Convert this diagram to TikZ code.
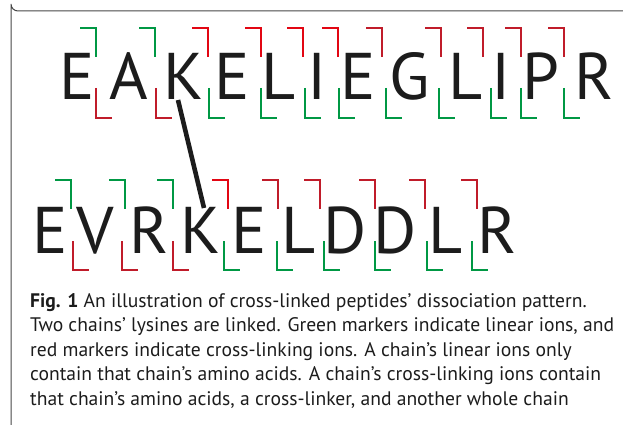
\documentclass[tikz,border=0pt]{standalone}
\usepackage{fontspec}
\setmainfont{PT Sans}
\usetikzlibrary{calc}
\definecolor{mgreen}{RGB}{0,152,68}
\definecolor{mred}{RGB}{226,6,19}
\definecolor{mdred}{RGB}{192,28,42}
\definecolor{ink}{RGB}{28,28,28}
\definecolor{frame}{RGB}{70,70,70}
\begin{document}
\begin{tikzpicture}[x=1pt,y=-1pt,
  aa/.style={font=\fontsize{66}{66}\selectfont, inner sep=0pt, anchor=base, text=ink},
  mk/.style={line width=2.9pt, line cap=butt, line join=miter},
  captxt/.style={font=\fontsize{19.6}{22}\selectfont, inner sep=0pt, anchor=base west, text=ink},
  link/.style={line width=4.6pt, draw=ink}]
\useasboundingbox (0,0) rectangle (623,425);
% frame
\draw[frame, line width=1pt] (623,11) -- (18,11) arc[start angle=90, end angle=180, radius=7] -- (11,425);
% top chain
\foreach \n/\l/\x in {a1/E/77.5, a2/A/128.5, a3/K/184, a4/E/232, a5/L/279, a6/I/317, a7/E/358.5, a8/G/410, a9/L/465.5, a10/I/501.5, a11/P/541, a12/R/594}
  \node[aa] (\n) at (\x,100) {\l};
% bottom chain
\foreach \n/\l/\x in {b1/E/50, b2/V/95, b3/R/149.5, b4/K/201, b5/E/249.5, b6/L/298.5, b7/D/345.5, b8/D/395.5, b9/L/446, b10/R/497}
  \node[aa] (\n) at (\x,253) {\l};
% top markers
\foreach \x/\c in {96/mgreen, 155/mgreen, 208/mred, 261/mred, 303/mred, 338/mred, 382/mdred, 441/mdred, 483/mdred, 521/mdred, 564/mdred}
  \draw[mk,\c] (\x-16,28) -- (\x,28) -- (\x,57);
\foreach \x/\c in {96/mdred, 156/mdred, 209/mgreen, 261/mgreen, 305/mgreen, 339/mgreen, 386/mgreen, 439/mgreen, 491/mgreen, 521/mgreen, 564/mgreen}
  \draw[mk,\c] (\x,88) -- (\x,118) -- (\x+16,118);
% bottom markers
\foreach \x/\c in {71/mgreen, 125/mgreen, 173/mgreen, 228/mred, 278/mdred, 320/mdred, 375/mdred, 425/mdred, 477/mdred}
  \draw[mk,\c] (\x-16,180) -- (\x,180) -- (\x,209);
\foreach \x/\c in {73/mdred, 122/mdred, 173/mdred, 224/mgreen, 277/mgreen, 324/mgreen, 375/mgreen, 427/mgreen, 472/mgreen}
  \draw[mk,\c] (\x,241) -- (\x,270) -- (\x+16,270);
% cross-link
\coordinate (l1) at ($(a3.base)+(-6,0)$);
\coordinate (l2) at ($(b4.base)+(3,-45)$);
\draw[link] (l1) -- (l2);
% caption
\node[captxt] (c1) at (30,307) {\textbf{Fig. 1} An illustration of cross-linked peptides’ dissociation pattern.};
\node[captxt] (c2) at (30,331.5) {Two chains’ lysines are linked. Green markers indicate linear ions, and};
\node[captxt] (c3) at (30,356) {red markers indicate cross-linking ions. A chain’s linear ions only};
\node[captxt] (c4) at (30,380.5) {contain that chain’s amino acids. A chain’s cross-linking ions contain};
\node[captxt] (c5) at (30,405) {that chain’s amino acids, a cross-linker, and another whole chain};
\end{tikzpicture}
\end{document}
